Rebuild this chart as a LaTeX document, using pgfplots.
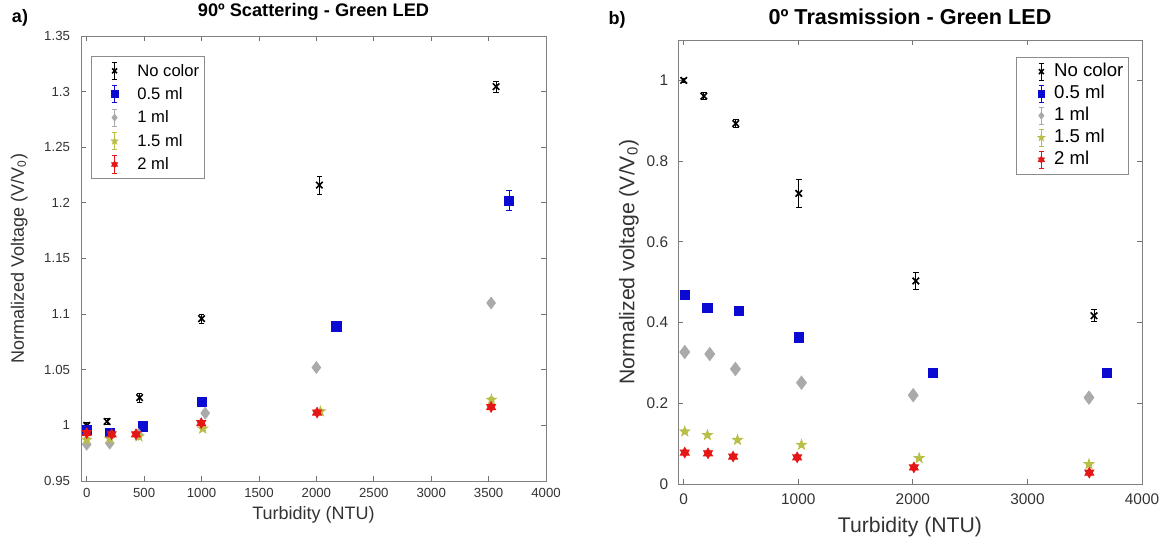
\documentclass[border=0pt]{standalone}
\usepackage{fontspec}
\setmainfont{Liberation Sans}
\usepackage{pgfplots}
\pgfplotsset{compat=1.18}

\definecolor{cblue}{RGB}{10,10,210}
\definecolor{cgray}{RGB}{170,170,170}
\definecolor{cyel}{RGB}{185,190,70}
\definecolor{cred}{RGB}{228,22,22}

% filled star marks like MATLAB 'p' and 'h'
\pgfdeclareplotmark{pentagram}{%
  \pgfpathmoveto{\pgfpointpolar{90}{\pgfplotmarksize}}%
  \pgfpathlineto{\pgfpointpolar{126}{0.40\pgfplotmarksize}}%
  \pgfpathlineto{\pgfpointpolar{162}{\pgfplotmarksize}}%
  \pgfpathlineto{\pgfpointpolar{198}{0.40\pgfplotmarksize}}%
  \pgfpathlineto{\pgfpointpolar{234}{\pgfplotmarksize}}%
  \pgfpathlineto{\pgfpointpolar{270}{0.40\pgfplotmarksize}}%
  \pgfpathlineto{\pgfpointpolar{306}{\pgfplotmarksize}}%
  \pgfpathlineto{\pgfpointpolar{342}{0.40\pgfplotmarksize}}%
  \pgfpathlineto{\pgfpointpolar{18}{\pgfplotmarksize}}%
  \pgfpathlineto{\pgfpointpolar{54}{0.40\pgfplotmarksize}}%
  \pgfpathclose\pgfusepathqfillstroke}
\pgfdeclareplotmark{hexagram}{%
  \pgfpathmoveto{\pgfpointpolar{90}{\pgfplotmarksize}}%
  \pgfpathlineto{\pgfpointpolar{120}{0.58\pgfplotmarksize}}%
  \pgfpathlineto{\pgfpointpolar{150}{\pgfplotmarksize}}%
  \pgfpathlineto{\pgfpointpolar{180}{0.58\pgfplotmarksize}}%
  \pgfpathlineto{\pgfpointpolar{210}{\pgfplotmarksize}}%
  \pgfpathlineto{\pgfpointpolar{240}{0.58\pgfplotmarksize}}%
  \pgfpathlineto{\pgfpointpolar{270}{\pgfplotmarksize}}%
  \pgfpathlineto{\pgfpointpolar{300}{0.58\pgfplotmarksize}}%
  \pgfpathlineto{\pgfpointpolar{330}{\pgfplotmarksize}}%
  \pgfpathlineto{\pgfpointpolar{0}{0.58\pgfplotmarksize}}%
  \pgfpathlineto{\pgfpointpolar{30}{\pgfplotmarksize}}%
  \pgfpathlineto{\pgfpointpolar{60}{0.58\pgfplotmarksize}}%
  \pgfpathclose\pgfusepathqfillstroke}

\pgfplotsset{
  panel/.style={
    scale only axis, xmin=-50, xmax=4000,
    axis line style={black!50, line width=0.5pt},
    every tick/.style={black!55, line width=0.4pt},
    major tick length=2.5pt, tick align=inside,
    /pgf/number format/assume math mode=true,
    /pgf/number format/set thousands separator={},
    tick label style={text=black!80},
    label style={text=black!80},
    title style={text=black, anchor=south, at={(0.5,1)}, inner sep=0pt, yshift=1.5pt},
    legend cell align=left,
    legend style={draw=black!45, line width=0.4pt, inner sep=2pt,
      column sep=2pt, nodes={inner sep=0.6pt, text height=0.72em, text depth=0.2em}},
  },
  errleg/.style 2 args={legend image code/.code={%
    \path (0pt,-4pt) (#1,4pt);
    \draw[##1, line width=0.35pt] (#2,-4.3pt) -- (#2,4.3pt)
      (#2-1.3pt,4.3pt) -- (#2+1.3pt,4.3pt) (#2-1.3pt,-4.3pt) -- (#2+1.3pt,-4.3pt);
    \draw[##1, mark size=1.7pt] plot coordinates {(#2,0pt)};}},
  s1/.style={black, only marks, mark=x, mark size=2.3pt, mark options={line width=0.8pt}},
  s2/.style={cblue, only marks, mark=square*, mark size=2.3pt},
  s3/.style={cgray, only marks, mark=diamond*, mark size=3.3pt},
  s4/.style={cyel, only marks, mark=pentagram, mark size=2.6pt},
  s5/.style={cred, only marks, mark=hexagram, mark size=2.6pt},
  eb/.style={error bars/.cd, y dir=both, y explicit,
    error mark options={rotate=90, mark size=1.4pt, line width=0.45pt},
    error bar style={line width=0.45pt}},
}

\begin{document}
\begin{tikzpicture}
\useasboundingbox (0,0) rectangle (584pt,271pt);

\begin{axis}[panel, at={(40.5pt,30.5pt)}, anchor=south west,
  width=232.5pt, height=222.5pt,
  ymin=0.95, ymax=1.35,
  xtick={0,500,1000,1500,2000,2500,3000,3500,4000},
  ytick={0.95,1,1.05,1.1,1.15,1.2,1.25,1.3,1.35},
  tick label style={font=\fontsize{6.6}{7}\selectfont},
  yticklabel style={xshift=-2pt},
  label style={font=\fontsize{9}{10}\selectfont},
  xlabel={Turbidity (NTU)}, ylabel={Normalized Voltage (V/V\textsubscript{0})},
  xlabel style={at={(axis description cs:0.5,-0.076)}, anchor=center},
  ylabel style={at={(axis description cs:-0.133,0.5)}, anchor=center},
  title={90º Scattering - Green LED},
  title style={font=\bfseries\fontsize{9.1}{10}\selectfont},
  errleg={18pt}{9.4pt},
  legend style={at={(0.0215,0.955)}, anchor=north west, row sep=1.3pt,
    font=\fontsize{8.3}{9}\selectfont},
]
\addplot[s1, eb] table[x=x, y=y, y error=e] {
x y e
0 1.000 0.003
177 1.0035 0.003
461 1.025 0.004
1000 1.096 0.004
2026 1.216 0.008
3565 1.3045 0.005
};
\addlegendentry{No color}
\addplot[s2, eb] table[x=x, y=y, y error=e] {
x y e
0 0.996 0.002
200 0.993 0.002
487 0.999 0.002
1003 1.021 0.004
2174 1.089 0.002
3678 1.202 0.009
};
\addlegendentry{0.5 ml}
\addplot[s3, mark size=2.9pt, eb] table[x=x, y=y, y error=e] {
x y e
0 0.983 0.002
200 0.984 0.002
450 0.992 0.002
1032 1.011 0.002
2000 1.052 0.002
3522 1.110 0.002
};
\addlegendentry{1 ml}
\addplot[s4, eb] table[x=x, y=y, y error=e] {
x y e
0 0.987 0.002
200 0.988 0.002
455 0.990 0.002
1010 0.997 0.002
2035 1.0125 0.002
3525 1.023 0.002
};
\addlegendentry{1.5 ml}
\addplot[s5, eb] table[x=x, y=y, y error=e] {
x y e
0 0.993 0.002
217 0.992 0.002
429 0.992 0.002
997 1.002 0.002
2006 1.0115 0.002
3522 1.0165 0.002
};
\addlegendentry{2 ml}
\end{axis}

\begin{axis}[panel, at={(339pt,29pt)}, anchor=south west,
  width=232pt, height=222pt,
  ymin=0, ymax=1.1,
  xtick={0,1000,2000,3000,4000},
  ytick={0,0.2,0.4,0.6,0.8,1},
  tick label style={font=\fontsize{7.7}{8}\selectfont},
  yticklabel style={xshift=-1.4pt},
  xticklabel style={yshift=-1.5pt},
  label style={font=\fontsize{10.6}{12}\selectfont},
  xlabel={Turbidity (NTU)}, ylabel={Normalized voltage (V/V\textsubscript{0})},
  xlabel style={at={(axis description cs:0.5,-0.097)}, anchor=center},
  ylabel style={at={(axis description cs:-0.106,0.5)}, anchor=center},
  title={0º Trasmission - Green LED},
  title style={font=\bfseries\fontsize{10.8}{12}\selectfont},
  errleg={14pt}{10.4pt},
  legend style={at={(0.972,0.962)}, anchor=north east, row sep=0.6pt,
    font=\fontsize{9.3}{10}\selectfont},
]
\addplot[s1, eb] table[x=x, y=y, y error=e] {
x y e
0 1.000 0.005
175 0.961 0.008
454 0.893 0.010
1004 0.720 0.034
2026 0.503 0.022
3581 0.417 0.015
};
\addlegendentry{No color}
\addplot[s2, eb] table[x=x, y=y, y error=e] {
x y e
9 0.468 0.004
207 0.436 0.004
480 0.429 0.004
1004 0.363 0.004
2177 0.276 0.004
3697 0.276 0.004
};
\addlegendentry{0.5 ml}
\addplot[s3, eb] table[x=x, y=y, y error=e] {
x y e
9 0.327 0.004
227 0.322 0.004
451 0.285 0.004
1028 0.251 0.004
2003 0.220 0.004
3537 0.214 0.004
};
\addlegendentry{1 ml}
\addplot[s4, eb] table[x=x, y=y, y error=e] {
x y e
9 0.130 0.003
207 0.121 0.003
469 0.109 0.003
1028 0.097 0.003
2055 0.064 0.003
3537 0.049 0.003
};
\addlegendentry{1.5 ml}
\addplot[s5, eb] table[x=x, y=y, y error=e] {
x y e
9 0.078 0.003
212 0.076 0.003
431 0.068 0.003
990 0.066 0.003
2009 0.041 0.003
3540 0.028 0.003
};
\addlegendentry{2 ml}
\end{axis}

\node[font=\bfseries\fontsize{9}{10}\selectfont] at (10pt,262pt) {a)};
\node[font=\bfseries\fontsize{9}{10}\selectfont] at (308.5pt,261pt) {b)};
\end{tikzpicture}
\end{document}
